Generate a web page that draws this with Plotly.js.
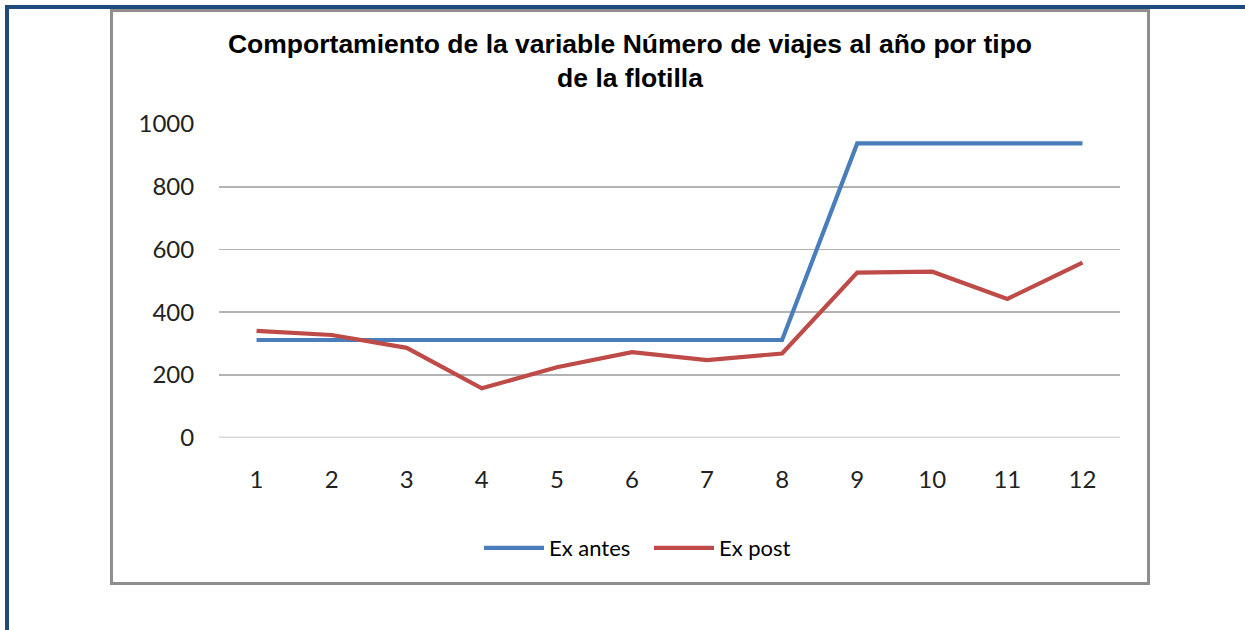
<!DOCTYPE html>
<html>
<head>
<meta charset="utf-8">
<script src="https://cdn.plot.ly/plotly-3.0.1.min.js"></script>
<style>html,body{margin:0;padding:0;background:#fff;}#chart{width:1245px;height:630px;}</style>
</head>
<body>
<div id="chart"></div>
<script>
const categories = ["1","2","3","4","5","6","7","8","9","10","11","12"];
const exAntes = [311, 311, 311, 311, 311, 311, 311, 311, 938, 938, 938, 938];
const exPost  = [340, 327, 286, 157, 224, 272, 247, 268, 526, 529, 442, 558];
const yTicks  = [0, 200, 400, 600, 800, 1000];
const seriesNames = ["Ex antes", "Ex post"];
const titleText = "Comportamiento de la variable Número de viajes al año por tipo<br>de la flotilla";

const W = 1245, H = 630;
const px = v => v / W, py = v => 1 - v / H;

const traces = [
  {x: categories, y: exAntes, name: seriesNames[0], type: "scatter", mode: "lines",
   line: {color: "#4a7ebb", width: 4.2}},
  {x: categories, y: exPost, name: seriesNames[1], type: "scatter", mode: "lines",
   line: {color: "#be4b48", width: 4.2}}
];

const layout = {
  width: W, height: H,
  margin: {l: 0, r: 0, t: 0, b: 0},
  paper_bgcolor: "#fff", plot_bgcolor: "rgba(0,0,0,0)",
  showlegend: true,
  title: {text: titleText, x: px(630), xref: "paper", xanchor: "center",
          y: py(53), yref: "paper", yanchor: "top",
          font: {family: "Liberation Sans, Arial, sans-serif", size: 26.5, color: "#000", weight: "bold"}},
  xaxis: {type: "category", range: [-0.5, 11.5], domain: [px(219), px(1120)],
          showgrid: false, zeroline: false, showline: false,
          ticks: "outside", ticklen: 21, tickcolor: "rgba(0,0,0,0)",
          tickfont: {family: "Lato, Carlito, sans-serif", size: 24, color: "#222"}, fixedrange: true},
  yaxis: {range: [0, 1000], domain: [py(437.5), py(124)], tickvals: yTicks,
          showgrid: true, gridcolor: "#b3b3b3", gridwidth: 1.6, zeroline: false, showline: false,
          ticks: "outside", ticklen: 19, tickcolor: "rgba(0,0,0,0)",
          tickfont: {family: "Lato, Carlito, sans-serif", size: 24, color: "#222"}, fixedrange: true},
  legend: {orientation: "h", x: px(479), xanchor: "left", y: py(548), yanchor: "middle",
           font: {family: "Lato, Carlito, sans-serif", size: 22, color: "#000"},
           itemwidth: 60, entrywidth: 95, bgcolor: "rgba(0,0,0,0)", traceorder: "normal"},
  shapes: [
    {type: "line", xref: "paper", yref: "y", x0: px(219), x1: px(1120), y0: 0, y1: 0,
     line: {color: "#b3b3b3", width: 1.6}, layer: "below"},
    {type: "rect", xref: "paper", yref: "paper", x0: px(111.5), x1: px(1148.5), y0: py(10.5), y1: py(583.5),
     line: {color: "#8e8e8e", width: 3}, fillcolor: "rgba(0,0,0,0)", layer: "below"},
    {type: "rect", xref: "paper", yref: "paper", x0: px(5), x1: px(9), y0: py(5), y1: py(630),
     line: {width: 0}, fillcolor: "#1f4a7e"},
    {type: "rect", xref: "paper", yref: "paper", x0: px(5), x1: px(1245), y0: py(5), y1: py(9),
     line: {width: 0}, fillcolor: "#1f4a7e"}
  ]
};

Plotly.newPlot("chart", traces, layout, {displayModeBar: false, staticPlot: true});
</script>
</body>
</html>
